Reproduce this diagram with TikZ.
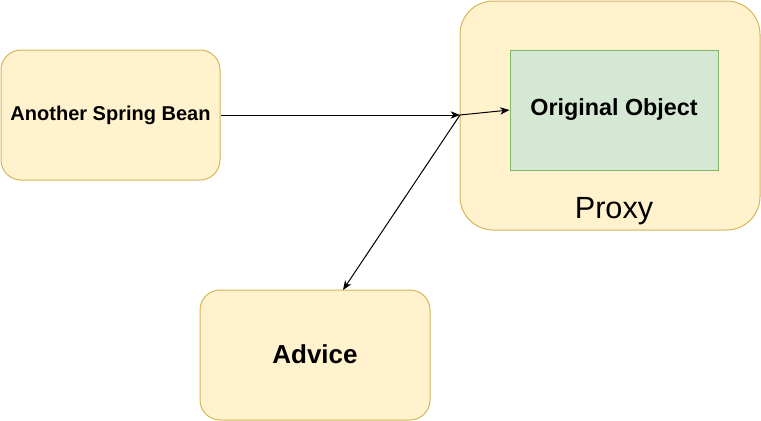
\documentclass[tikz,border=0pt]{standalone}
\usepackage{fontspec}
\setmainfont{Liberation Sans}
\usetikzlibrary{arrows.meta, positioning, calc}
\definecolor{beanyellow}{RGB}{255,242,204}
\definecolor{beanborder}{RGB}{214,182,86}
\definecolor{objgreen}{RGB}{213,232,212}
\definecolor{objborder}{RGB}{130,179,102}
\tikzset{
  %% ---- boxes ----
  beanbox/.style = {rectangle, rounded corners=#1,
                   draw=beanborder, line width=0.75pt,
                   fill=beanyellow, align=center},
  beanbox/.default = 15pt,
  objbox/.style  = {rectangle, draw=objborder, line width=0.75pt,
                   fill=objgreen, align=center},
  %% ---- arrows ----
  arr/.style     = {-{Stealth[length=7pt, width=5.5pt, inset=2pt]},
                   line width=0.75pt, color=black},
}
\begin{document}
\begin{tikzpicture}[x=0.75pt, y=-0.75pt]
\useasboundingbox (0,0) rectangle (761,421);
\node[beanbox, minimum width=164.25pt, minimum height=97.5pt,
      font=\fontsize{15}{18}\selectfont\bfseries]      (bean)   at (110.5,115) {Another Spring Bean};
\node[beanbox=25pt, minimum width=225pt, minimum height=171.75pt] (proxy) at (610,115.5) {};
\node[objbox, minimum width=156pt, minimum height=90pt,
      font=\fontsize{17.5}{21}\selectfont\bfseries]    (orig)   at (614,110) {Original Object};
\node[font=\fontsize{23}{27}\selectfont]               (proxylbl) at (614,211) {Proxy};
\node[beanbox, minimum width=172.5pt, minimum height=97.5pt,
      font=\fontsize{19.5}{23}\selectfont\bfseries]    (advice) at (315,355) {\raisebox{2pt}{Advice}};
\coordinate (junction)  at (460,115);
\coordinate (advicetip) at (343,290);
\draw[arr] (bean.east) -- (junction);
\draw[arr] (junction)  -- (orig.west);
\draw[arr] (junction)  -- (advicetip);
\end{tikzpicture}
\end{document}
